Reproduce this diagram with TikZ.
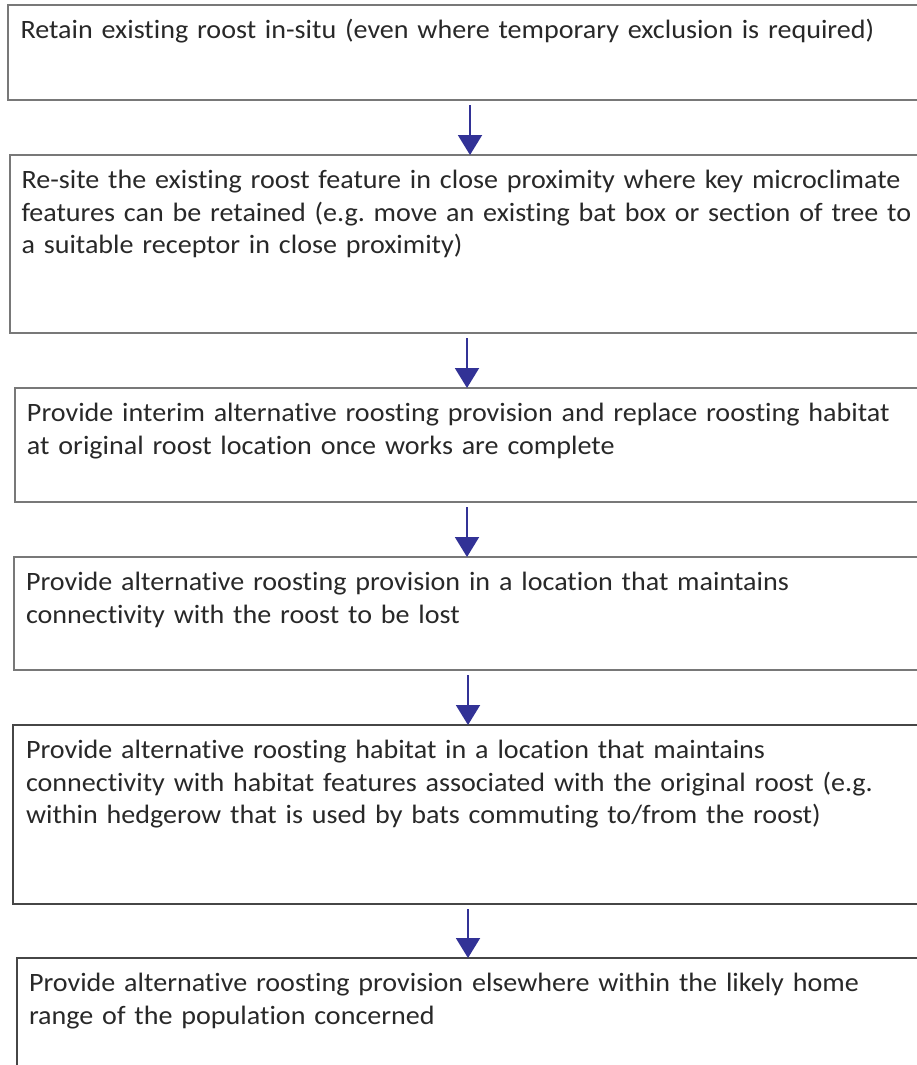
\documentclass[tikz,border=0pt]{standalone}
\usepackage{fontspec}
\setmainfont{Carlito}[FakeStretch=1.06,Ligatures=NoCommon]
\usetikzlibrary{arrows.meta,calc}
\definecolor{boxgray}{RGB}{120,120,120}
\definecolor{boxdark}{RGB}{70,70,70}
\definecolor{txtgray}{RGB}{40,40,40}
\definecolor{arrblue}{RGB}{50,50,150}
\begin{document}
\frenchspacing
\begin{tikzpicture}[x=1pt,y=-1pt,
  box/.style={draw=boxgray, line width=1.4pt, rectangle, inner sep=0pt, outer sep=0pt, anchor=north west, minimum width=917pt},
  darkbox/.style={box, draw=boxdark},
  txt/.style={anchor=north west, inner sep=0pt, outer sep=0pt, text width=900pt, align=left, text=txtgray, font=\fontsize{26.5}{32.4}\selectfont\frenchspacing},
  arr/.style={draw=arrblue, line width=2pt, -{Triangle[width=24pt,length=20pt]}}
]
\useasboundingbox (0,0) rectangle (916,1065);
% boxes
\node[box, minimum height=95pt]  (b1) at (8,5) {};
\node[box, minimum height=178pt] (b2) at (10,155) {};
\node[box, minimum height=114pt] (b3) at (15,388) {};
\node[box, minimum height=113pt] (b4) at (14,557) {};
\node[darkbox, minimum height=179pt] (b5) at (13,725) {};
\node[darkbox, minimum height=130pt] (b6) at (17,958) {};
% texts (strut height = 0.7 x 32.4 = 22.68)
\node[txt] (t1) at (20.5,16.3) {\strut Retain existing roost in-situ (even where temporary exclusion is required)};
\node[txt] (t2) at (21.5,166.3) {\strut Re-site the existing roost feature in close proximity where key microclimate\\
\strut features can be retained (e.g. move an existing bat box or section of tree to\\
\strut a suitable receptor in close proximity)};
\node[txt] (t3) at (27,399.3) {\strut Provide interim alternative roosting provision and replace roosting habitat\\
\strut at original roost location once works are complete};
\node[txt] (t4) at (26,568.3) {\strut Provide alternative roosting provision in a location that maintains\\
\strut connectivity with the roost to be lost};
\node[txt] (t5) at (26,736.3) {\strut Provide alternative roosting habitat in a location that maintains\\
\strut connectivity with habitat features associated with the original roost (e.g.\\
\strut within hedgerow that is used by bats commuting to/from the roost)};
\node[txt] (t6) at (29,969.3) {\strut Provide alternative roosting provision elsewhere within the likely home\\
\strut range of the population concerned};
% arrow axes
\coordinate (a1) at (470,0);
\coordinate (a2) at (467,0);
\coordinate (a3) at (467,0);
\coordinate (a4) at (468,0);
\coordinate (a5) at (468,0);
% arrows
\draw[arr] ($(b1.south -| a1)+(0,5)$) -- (b2.north -| a1);
\draw[arr] ($(b2.south -| a2)+(0,5)$) -- (b3.north -| a2);
\draw[arr] ($(b3.south -| a3)+(0,5)$) -- (b4.north -| a3);
\draw[arr] ($(b4.south -| a4)+(0,5)$) -- (b5.north -| a4);
\draw[arr] ($(b5.south -| a5)+(0,5)$) -- (b6.north -| a5);
\end{tikzpicture}
\end{document}
